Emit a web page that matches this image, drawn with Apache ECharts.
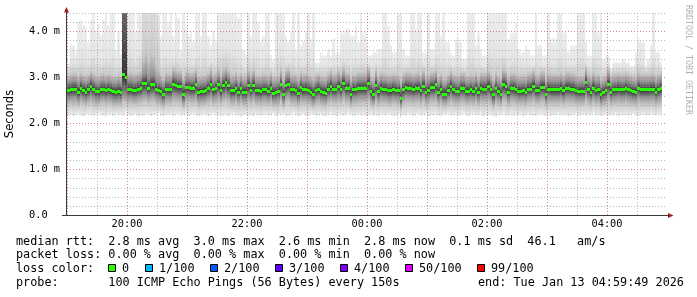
<!DOCTYPE html>
<html>
<head>
<meta charset="utf-8">
<script src="https://cdn.jsdelivr.net/npm/echarts@6/dist/echarts.min.js"></script>
<style>
html,body{margin:0;padding:0;background:#fff;}
#chart{width:697px;height:297px;}
</style>
</head>
<body>
<div id="chart"></div>
<script>
// ---- data (150 s samples starting 19:00, values in ms) ----
var STEP_MIN = 2.5;
var xTickLabels = ['20:00', '22:00', '00:00', '02:00', '04:00'];
var yTickLabels = ['0.0  ', '1.0 m', '2.0 m', '3.0 m', '4.0 m'];

var median = [
2.72,2.73,2.75,2.75,2.68,2.77,2.72,2.68,2.73,2.81,2.75,2.69,2.69,2.73,2.74,2.71,2.74,2.72,2.69,2.67,2.70,2.68,3.06,3.00,2.74,2.75,2.72,2.72,2.75,2.76,2.86,2.88,2.77,2.84,2.84,2.75,2.72,2.70,2.64,2.75,2.74,2.73,2.85,2.82,2.80,2.80,2.63,2.78,
2.78,2.76,2.76,2.84,2.68,2.69,2.70,2.72,2.76,2.85,2.73,2.76,2.84,2.71,2.83,2.89,2.82,2.71,2.71,2.77,2.68,2.76,2.68,2.68,2.82,2.72,2.82,2.71,2.71,2.70,2.73,2.73,2.70,2.77,2.66,2.67,2.70,2.84,2.64,2.82,2.85,2.73,2.73,2.72,2.66,2.78,2.73,2.75,
2.72,2.68,2.64,2.71,2.74,2.69,2.68,2.66,2.75,2.81,2.74,2.74,2.81,2.74,2.87,2.77,2.77,2.64,2.73,2.73,2.77,2.77,2.77,2.77,2.87,2.69,2.64,2.83,2.69,2.77,2.74,2.74,2.71,2.71,2.74,2.72,2.71,2.55,2.74,2.78,2.77,2.76,2.74,2.76,2.77,2.71,2.81,2.68,
2.72,2.78,2.78,2.84,2.68,2.74,2.64,2.64,2.72,2.81,2.73,2.70,2.70,2.76,2.76,2.70,2.70,2.73,2.70,2.76,2.68,2.76,2.75,2.75,2.81,2.73,2.62,2.76,2.70,2.64,2.84,2.81,2.68,2.76,2.76,2.73,2.70,2.70,2.71,2.68,2.75,2.75,2.81,2.72,2.72,2.79,2.79,2.64,
2.75,2.73,2.73,2.73,2.73,2.77,2.71,2.77,2.77,2.75,2.75,2.71,2.70,2.70,2.70,2.89,2.73,2.68,2.77,2.71,2.73,2.62,2.67,2.71,2.85,2.68,2.73,2.73,2.75,2.73,2.73,2.76,2.73,2.71,2.69,2.68,2.77,2.73,2.73,2.73,2.73,2.75,2.75,2.68,2.73,2.76
];

var pingMin = [
2.18,2.20,2.16,2.19,2.21,2.17,2.15,2.19,2.20,2.18,2.16,2.19,2.22,2.18,2.17,2.15,2.20,2.19,2.16,2.21,
2.18,2.20,2.17,2.23,2.18,2.16,2.19,2.20,2.15,2.18,2.17,2.21,2.19,2.16,2.18,2.20,2.22,2.17,2.15,2.19,
2.18,2.20,2.16,2.19,2.21,2.17,2.18,2.20,2.16,2.19,2.21,2.18,2.15,2.17,2.20,2.19,2.16,2.18,2.22,2.17,
2.19,2.15,2.18,2.20,2.16,2.19,2.21,2.17,2.18,2.14,2.18,2.20,2.17,2.19,2.16,2.21,2.18,2.15,2.19,2.20,
2.17,2.18,2.21,2.16,2.19,2.18,2.20,2.15,2.17,2.19,2.22,2.18,2.16,2.19,2.20,2.17,2.18,2.21,2.19,2.16,
2.18,2.20,2.17,2.15,2.19,2.21,2.18,2.16,2.20,2.19,2.17,2.18,2.22,2.19,2.16,2.18,2.20,2.17,2.19,2.15,
2.18,2.21,2.17,2.19,2.16,2.20,2.18,2.17,2.21,2.19,2.16,2.18,2.20,2.13,2.19,2.17,2.21,2.18,2.16,2.19,
2.20,2.17,2.18,2.21,2.16,2.19,2.18,2.20,2.17,2.15,2.19,2.18,2.21,2.16,2.18,2.20,2.17,2.19,2.22,2.18,
2.16,2.19,2.20,2.17,2.18,2.21,2.15,2.19,2.18,2.20,2.17,2.14,2.19,2.18,2.21,2.16,2.18,2.20,2.17,2.19,
2.18,2.21,2.16,2.19,2.20,2.17,2.18,2.15,2.19,2.21,2.18,2.17,2.20,2.16,2.19,2.18,2.21,2.17,2.19,2.20,
2.16,2.18,2.19,2.21,2.17,2.18,2.20,2.16,2.19,2.18,2.21,2.17,2.19,2.15,2.18,2.20,2.17,2.19,2.18,2.21,
2.16,2.19,2.18,2.20,2.17,2.19,2.21,2.18,2.16,2.19,2.20,2.17,2.18,2.21,2.19,2.17,2.20,2.18
];

var ping10 = [
2.40,2.42,2.38,2.41,2.37,2.43,2.40,2.36,2.41,2.44,2.39,2.37,2.38,2.41,2.42,2.39,2.41,2.40,2.37,2.36,
2.38,2.37,2.45,2.44,2.41,2.42,2.40,2.39,2.42,2.43,2.45,2.46,2.42,2.44,2.45,2.41,2.40,2.38,2.35,2.41,
2.41,2.40,2.45,2.44,2.43,2.42,2.34,2.43,2.43,2.42,2.42,2.45,2.37,2.38,2.39,2.40,2.42,2.46,2.40,2.42,
2.45,2.39,2.45,2.47,2.44,2.39,2.39,2.42,2.37,2.42,2.37,2.37,2.44,2.40,2.44,2.39,2.39,2.38,2.40,2.40,
2.38,2.42,2.36,2.37,2.38,2.45,2.35,2.44,2.46,2.40,2.40,2.40,2.36,2.42,2.40,2.41,2.40,2.37,2.35,2.39,
2.41,2.38,2.37,2.36,2.41,2.44,2.41,2.41,2.44,2.41,2.47,2.42,2.42,2.35,2.40,2.40,2.42,2.42,2.42,2.42,
2.47,2.38,2.36,2.45,2.38,2.42,2.41,2.41,2.39,2.39,2.41,2.40,2.39,2.30,2.40,2.43,2.42,2.42,2.41,2.42,
2.43,2.39,2.44,2.37,2.40,2.43,2.43,2.45,2.37,2.41,2.36,2.36,2.40,2.44,2.40,2.39,2.39,2.42,2.42,2.39,
2.39,2.40,2.39,2.42,2.37,2.42,2.41,2.41,2.44,2.40,2.34,2.42,2.39,2.36,2.45,2.44,2.37,2.42,2.42,2.40,
2.39,2.39,2.39,2.37,2.41,2.41,2.44,2.40,2.40,2.43,2.43,2.36,2.41,2.40,2.40,2.40,2.40,2.42,2.39,2.42,
2.42,2.41,2.41,2.39,2.39,2.39,2.39,2.47,2.40,2.37,2.42,2.39,2.40,2.34,2.37,2.39,2.45,2.37,2.40,2.40,
2.41,2.40,2.40,2.42,2.40,2.39,2.38,2.37,2.42,2.40,2.40,2.40,2.40,2.41,2.41,2.37,2.40,2.42
];

var ping25 = [
2.56,2.57,2.58,2.58,2.52,2.60,2.56,2.53,2.57,2.63,2.58,2.54,2.53,2.57,2.58,2.55,2.58,2.56,2.53,2.52,
2.54,2.52,2.62,2.60,2.58,2.59,2.56,2.56,2.59,2.60,2.64,2.65,2.60,2.63,2.64,2.58,2.56,2.54,2.49,2.58,
2.57,2.57,2.64,2.63,2.61,2.61,2.48,2.61,2.61,2.59,2.59,2.64,2.53,2.54,2.54,2.56,2.59,2.65,2.57,2.59,
2.64,2.55,2.63,2.67,2.62,2.55,2.55,2.60,2.53,2.59,2.53,2.53,2.62,2.56,2.62,2.55,2.55,2.54,2.57,2.57,
2.54,2.60,2.51,2.52,2.54,2.64,2.49,2.62,2.65,2.57,2.57,2.56,2.51,2.60,2.57,2.58,2.56,2.53,2.49,2.55,
2.58,2.54,2.53,2.51,2.58,2.62,2.58,2.58,2.62,2.58,2.67,2.60,2.60,2.49,2.57,2.57,2.60,2.60,2.60,2.60,
2.67,2.54,2.49,2.64,2.54,2.60,2.58,2.58,2.55,2.55,2.58,2.56,2.55,2.42,2.57,2.61,2.60,2.59,2.58,2.60,
2.60,2.55,2.62,2.53,2.56,2.61,2.61,2.65,2.53,2.58,2.50,2.50,2.56,2.62,2.57,2.55,2.55,2.60,2.60,2.55,
2.55,2.57,2.55,2.60,2.53,2.60,2.59,2.59,2.63,2.57,2.48,2.60,2.55,2.50,2.64,2.62,2.53,2.60,2.60,2.57,
2.55,2.55,2.56,2.53,2.59,2.59,2.63,2.56,2.56,2.61,2.61,2.50,2.59,2.57,2.57,2.57,2.57,2.60,2.55,2.60,
2.60,2.59,2.59,2.55,2.55,2.55,2.55,2.66,2.57,2.53,2.60,2.55,2.57,2.47,2.52,2.55,2.64,2.53,2.57,2.57,
2.59,2.57,2.57,2.60,2.57,2.55,2.54,2.53,2.60,2.57,2.57,2.57,2.57,2.59,2.59,2.53,2.57,2.60
];

var ping75 = [
2.89,2.90,2.92,2.92,2.86,2.94,2.89,2.86,2.90,2.98,2.92,2.87,2.86,2.90,2.91,2.88,2.91,2.89,2.86,2.85,
2.88,2.86,5.50,5.50,2.92,2.93,2.90,2.90,2.93,2.95,3.06,3.10,2.98,3.04,3.05,2.94,2.90,2.87,2.82,2.92,
2.91,2.90,3.02,2.99,2.97,2.97,2.82,2.95,2.95,2.93,2.93,3.01,2.86,2.87,2.88,2.89,2.93,3.02,2.90,2.93,
3.01,2.88,3.00,3.06,2.99,2.88,2.88,2.94,2.86,2.93,2.86,2.86,2.99,2.89,2.99,2.88,2.88,2.87,2.90,2.90,
2.87,2.94,2.84,2.85,2.87,3.01,2.82,2.99,3.02,2.90,2.90,2.89,2.84,2.95,2.90,2.92,2.89,2.86,2.82,2.88,
2.91,2.86,2.85,2.84,2.92,2.98,2.91,2.91,2.98,2.91,3.04,2.94,2.94,2.82,2.90,2.90,2.94,2.94,2.94,2.94,
3.04,2.86,2.82,3.00,2.86,2.94,2.91,2.91,2.88,2.88,2.91,2.89,2.88,2.76,2.90,2.95,2.94,2.93,2.91,2.93,
2.94,2.88,2.98,2.85,2.89,2.95,2.95,3.01,2.85,2.91,2.82,2.82,2.89,2.98,2.90,2.87,2.87,2.93,2.93,2.87,
2.87,2.90,2.87,2.93,2.85,2.93,2.92,2.92,2.98,2.90,2.80,2.93,2.87,2.82,3.01,2.98,2.85,2.93,2.93,2.90,
2.87,2.87,2.88,2.85,2.92,2.92,2.98,2.89,2.89,2.96,2.96,2.82,2.92,2.90,2.90,2.90,2.90,2.94,2.88,2.94,
2.94,2.92,2.92,2.88,2.87,2.87,2.87,3.06,2.90,2.85,2.94,2.88,2.90,2.80,2.84,2.88,3.02,2.85,2.90,2.90,
2.92,2.90,2.90,2.93,2.90,2.88,2.86,2.85,2.94,2.90,2.90,2.90,2.90,2.92,2.92,2.85,2.90,2.93
];

var ping90 = [
3.05,3.08,3.10,3.09,3.04,3.12,3.07,3.03,3.08,3.15,3.10,3.05,3.04,3.08,3.09,3.06,3.09,3.07,3.04,3.03,
3.06,3.04,8.00,8.00,3.12,3.14,3.10,3.10,3.13,3.16,3.45,3.60,3.40,3.55,3.50,3.30,3.20,3.06,3.00,3.12,
3.10,3.08,3.22,3.18,3.15,3.15,3.00,3.13,3.13,3.11,3.12,3.20,3.04,3.05,3.06,3.07,3.11,3.21,3.08,3.11,
3.20,3.06,3.19,3.25,3.18,3.06,3.07,3.12,3.04,3.11,3.04,3.04,3.17,3.07,3.17,3.06,3.06,3.05,3.08,3.08,
3.05,3.12,3.02,3.03,3.05,3.19,3.00,3.17,3.20,3.08,3.08,3.07,3.02,3.13,3.08,3.10,3.07,3.04,3.00,3.06,
3.09,3.04,3.03,3.02,3.10,3.16,3.09,3.09,3.16,3.09,3.22,3.12,3.12,3.00,3.08,3.08,3.12,3.12,3.12,3.12,
3.22,3.04,3.00,3.18,3.04,3.12,3.09,3.09,3.06,3.06,3.09,3.07,3.06,2.95,3.08,3.13,3.12,3.11,3.09,3.11,
3.12,3.06,3.16,3.03,3.07,3.13,3.13,3.19,3.03,3.09,3.00,3.00,3.07,3.16,3.08,3.05,3.05,3.11,3.11,3.05,
3.05,3.08,3.05,3.11,3.03,3.11,3.10,3.10,3.16,3.08,2.98,3.11,3.05,3.00,3.19,3.16,3.03,3.11,3.11,3.08,
3.05,3.05,3.06,3.03,3.10,3.10,3.16,3.07,3.07,3.14,3.14,3.00,3.10,3.08,3.08,3.08,3.08,3.12,3.06,3.12,
3.12,3.10,3.10,3.06,3.05,3.05,3.05,3.24,3.08,3.03,3.12,3.06,3.08,2.98,3.02,3.06,3.20,3.03,3.08,3.08,
3.10,3.08,3.08,3.11,3.08,3.06,3.04,3.03,3.12,3.08,3.08,3.08,3.08,3.10,3.10,3.03,3.08,3.11
];

var ping97 = [
3.25,3.35,3.35,3.30,3.40,3.42,3.38,3.36,3.32,3.45,3.50,3.34,3.38,3.30,3.40,3.48,3.36,3.45,3.48,3.28,
3.34,3.25,10.0,10.0,3.50,3.55,3.48,3.35,3.52,3.60,5.00,5.00,4.80,5.00,5.00,4.70,4.20,3.36,3.45,3.50,
3.38,3.45,3.35,3.50,3.40,3.30,3.42,3.36,3.32,3.34,3.30,3.48,3.50,3.32,3.52,3.55,3.30,3.35,3.36,3.30,
3.55,3.50,3.60,3.65,3.58,3.52,3.55,3.50,3.40,3.42,3.25,3.22,3.52,3.32,3.50,3.48,3.38,3.30,3.32,3.48,
3.50,3.22,3.20,3.45,3.48,3.52,3.50,3.32,3.35,3.35,3.48,3.25,3.45,3.28,3.30,3.35,3.45,3.32,3.45,3.22,
3.22,3.28,3.26,3.26,3.28,3.25,3.32,3.28,3.28,3.36,3.40,3.38,3.36,3.32,3.32,3.40,3.30,3.45,3.36,3.36,
3.30,3.28,3.30,3.32,3.32,3.30,3.50,3.50,3.38,3.30,3.28,3.28,3.45,3.40,3.30,3.28,3.30,3.45,3.48,3.38,
3.48,3.45,3.30,3.28,3.48,3.30,3.30,3.50,3.48,3.36,3.45,3.32,3.32,3.28,3.26,3.32,3.32,3.30,3.22,3.22,
3.50,3.45,3.48,3.30,3.35,3.30,3.26,3.26,3.55,3.50,3.52,3.48,3.50,3.48,3.52,3.45,3.32,3.36,3.36,3.38,
3.30,3.28,3.28,3.30,3.30,3.26,3.26,3.45,3.30,3.30,3.26,3.26,3.40,3.32,3.32,3.32,3.45,3.48,3.35,3.35,
3.28,3.30,3.30,3.30,3.48,3.50,3.48,3.32,3.26,3.26,3.45,3.48,3.35,3.45,3.22,3.26,3.30,3.15,3.22,3.22,
3.22,3.22,3.26,3.22,3.22,3.18,3.18,3.30,3.35,3.32,3.32,3.18,3.26,3.32,3.48,3.30,3.30,3.22
];

var pingMax = [
3.31,3.70,3.70,3.56,4.21,4.25,4.14,4.10,3.77,4.25,4.60,4.03,4.17,3.92,4.25,4.60,4.14,4.60,4.60,3.60,
4.00,3.50,12.0,12.0,4.60,4.60,4.60,4.00,4.60,4.60,6.00,6.00,6.00,6.00,6.00,6.00,4.60,3.90,4.60,4.60,
4.20,4.60,3.90,4.60,4.30,3.60,4.60,4.10,3.90,4.00,3.80,4.60,4.60,3.90,4.60,4.60,3.90,3.70,4.00,3.80,
4.60,4.60,4.60,4.60,4.60,4.60,4.60,4.60,4.30,4.40,3.60,3.50,4.60,3.90,4.60,4.60,4.20,3.80,3.90,4.60,
4.60,3.50,3.40,4.60,4.60,4.60,4.60,3.90,3.80,4.00,4.60,3.60,4.60,3.70,3.80,4.00,4.60,3.84,4.60,3.33,
3.33,3.55,3.48,3.48,3.62,3.48,3.84,3.55,3.55,3.98,3.98,4.06,4.06,3.91,3.91,4.13,3.77,4.60,3.98,3.98,
3.48,3.48,3.55,3.55,3.62,3.62,4.60,4.60,4.13,3.70,3.55,3.55,4.60,4.60,3.62,3.48,3.48,4.60,4.60,4.06,
4.60,4.60,3.55,3.55,4.60,3.62,3.62,4.60,4.60,3.91,4.60,3.77,3.77,3.55,3.48,3.84,3.84,3.77,3.40,3.40,
4.60,4.60,4.60,3.70,3.98,3.62,3.48,3.48,4.60,4.60,4.60,4.60,4.60,4.60,4.60,4.60,3.84,3.98,3.98,4.20,
3.62,3.55,3.55,3.70,3.62,3.48,3.48,4.60,3.70,3.70,3.48,3.48,4.60,3.84,3.84,3.84,4.60,4.60,3.98,3.98,
3.55,3.70,3.70,3.70,4.60,4.60,4.60,3.77,3.48,3.48,4.60,4.60,3.98,4.60,3.40,3.48,3.48,3.20,3.33,3.33,
3.33,3.33,3.40,3.33,3.33,3.26,3.26,3.55,3.84,3.77,3.77,3.26,3.40,3.70,4.60,3.55,3.55,3.33
];

var lossLabels = ['0', '1/100', '2/100', '3/100', '4/100', '50/100', '99/100'];
var lossColors = ['#26ff00', '#00b8ff', '#0059ff', '#5e00ff', '#7e00ff', '#dd00ff', '#ff0000'];
var legendLines = [
  'median rtt:  2.8 ms avg  3.0 ms max  2.6 ms min  2.8 ms now  0.1 ms sd  46.1   am/s',
  'packet loss: 0.00 % avg  0.00 % max  0.00 % min  0.00 % now',
  'loss color:',
  'probe:       100 ICMP Echo Pings (56 Bytes) every 150s'
];
var endText = 'end: Tue Jan 13 04:59:49 2026';

// ---- presentation ----
var MONO = '"DejaVu Sans Mono", monospace';
var SHADES = [236, 202, 145, 50, 145, 202, 228, 238]; // min,q10,q25,med,q75,q90,q97,max
function grayCss(g) { return 'rgb(' + g + ',' + g + ',' + g + ')'; }
var RED_GRID = 'rgba(200,90,90,0.75)';
var GRAY_GRID = 'rgba(160,160,160,0.75)';

var seriesData = median.map(function (m, i) {
  return [i * STEP_MIN, pingMin[i], ping10[i], ping25[i], m, ping75[i], ping90[i], ping97[i], pingMax[i]];
});

var chart = echarts.init(document.getElementById('chart'), null, { renderer: 'canvas' });

var legendX = [108, 145, 210, 275, 340, 405, 477]; // box positions (layout)
var graphics = [];
graphics.push({ type: 'line', z: 100, shape: { x1: 66.5, y1: 215.5, x2: 66.5, y2: 10 }, style: { stroke: '#3a3a3a', lineWidth: 1 } });
graphics.push({ type: 'line', z: 100, shape: { x1: 62, y1: 215.5, x2: 670, y2: 215.5 }, style: { stroke: '#3a3a3a', lineWidth: 1 } });
graphics.push({ type: 'polygon', z: 101, shape: { points: [[64, 12.5], [69, 12.5], [66.5, 7]] }, style: { fill: '#a01818' } });
graphics.push({ type: 'polygon', z: 101, shape: { points: [[668, 213], [668, 218], [673.5, 215.5]] }, style: { fill: '#a01818' } });
graphics.push({ type: 'text', x: 10.5, y: 114, rotation: Math.PI / 2, style: { text: 'Seconds', font: '11.5px "DejaVu Sans"', fill: '#000', align: 'center', verticalAlign: 'middle' } });
graphics.push({ type: 'text', x: 688.5, y: 60, rotation: -Math.PI / 2, style: { text: 'RRDTOOL / TOBI OETIKER', font: '8.3px ' + MONO, fill: '#b0b0b0', align: 'center', verticalAlign: 'middle' } });
var lineY = [241.5, 255, 269, 283];
legendLines.forEach(function (t, i) {
  graphics.push({ type: 'text', x: 16, y: lineY[i], style: { text: t, font: '11.8px ' + MONO, fill: '#000', align: 'left', verticalAlign: 'middle' } });
});
graphics.push({ type: 'text', x: 478, y: lineY[3], style: { text: endText, font: '11.8px ' + MONO, fill: '#000', align: 'left', verticalAlign: 'middle' } });
lossLabels.forEach(function (lab, i) {
  graphics.push({ type: 'rect', shape: { x: legendX[i] + 0.5, y: 264.5, width: 7, height: 7 }, style: { fill: lossColors[i], stroke: '#000', lineWidth: 1 } });
  graphics.push({ type: 'text', x: legendX[i] + 14, y: lineY[2], style: { text: lab, font: '11.8px ' + MONO, fill: '#000', align: 'left', verticalAlign: 'middle' } });
});

chart.setOption({
  animation: false,
  backgroundColor: '#fff',
  grid: { left: 67, right: 30, top: 13.1, bottom: 81.5, containLabel: false },
  xAxis: {
    type: 'value', min: 0, max: 600, interval: 30,
    axisLine: { show: false }, axisTick: { show: false },
    axisLabel: {
      margin: 4, fontFamily: MONO, fontSize: 10.3, color: '#000',
      formatter: function (v) { return (v % 120 === 60) ? xTickLabels[(v - 60) / 120] : ''; }
    },
    splitLine: { show: true, showMinLine: true, showMaxLine: false, lineStyle: { color: [RED_GRID, GRAY_GRID], type: [1, 2], width: 1 } }
  },
  yAxis: {
    type: 'value', min: 0, max: 4.4, interval: 0.2,
    axisLine: { show: false }, axisTick: { show: false },
    axisLabel: {
      margin: 7, fontFamily: MONO, fontSize: 10.3, color: '#000',
      formatter: function (v) {
        var r = Math.round(v);
        return Math.abs(v - r) < 1e-6 && yTickLabels[r] !== undefined ? yTickLabels[r] : '';
      }
    },
    splitLine: { show: true, showMinLine: true, showMaxLine: true, lineStyle: { color: [RED_GRID, GRAY_GRID, GRAY_GRID, GRAY_GRID, GRAY_GRID], type: [1, 2], width: 1 } }
  },
  graphic: graphics,
  series: [{
    type: 'custom',
    z: -1,
    clip: true,
    data: seriesData,
    encode: { x: 0, y: [1, 2, 3, 4, 5, 6, 7, 8] },
    renderItem: function (params, api) {
      var t = api.value(0);
      var xa = Math.round(api.coord([t, 0])[0]);
      var xb = Math.round(api.coord([t + STEP_MIN, 0])[0]);
      var ys = [];
      for (var k = 1; k <= 8; k++) ys.push(api.coord([t, api.value(k)])[1]);
      var top = ys[7], bot = ys[0], h = bot - top;
      var stops = [];
      for (var j = 7; j >= 0; j--) stops.push({ offset: Math.min(1, Math.max(0, (ys[j] - top) / h)), color: grayCss(SHADES[j]) });
      var ym = ys[3];
      return {
        type: 'group',
        children: [
          { type: 'rect', shape: { x: xa, y: top, width: xb - xa, height: h }, style: { fill: new echarts.graphic.LinearGradient(0, 0, 0, 1, stops) } },
          { type: 'rect', shape: { x: xa, y: Math.round(ym - 1.5), width: xb - xa, height: 3 }, style: { fill: '#26ff00' } }
        ]
      };
    }
  }]
});
</script>
</body>
</html>
